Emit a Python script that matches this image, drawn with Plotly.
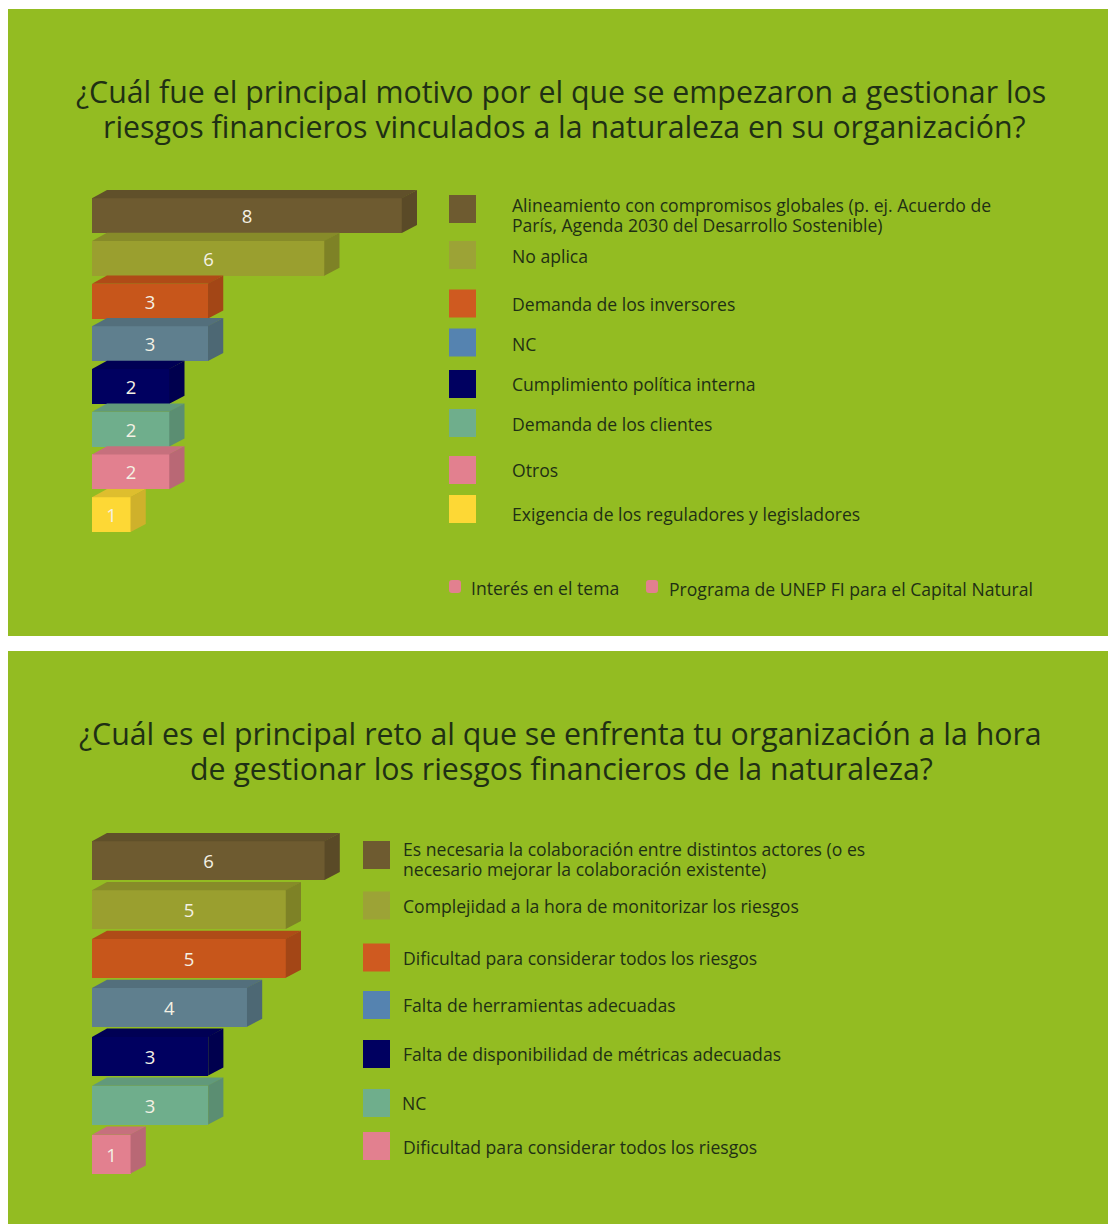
import plotly.graph_objects as go

W, H = 1108, 1224
BG = "#93bc22"
TXT = "#1f3014"
FONT = "Open Sans"

title_1 = ["¿Cuál fue el principal motivo por el que se empezaron a gestionar los",
           "riesgos financieros vinculados a la naturaleza en su organización?"]
title_2 = ["¿Cuál es el principal reto al que se enfrenta tu organización a la hora",
           "de gestionar los riesgos financieros de la naturaleza?"]

labels_1 = ["Alineamiento con compromisos globales (p. ej. Acuerdo de<br>París, Agenda 2030 del Desarrollo Sostenible)", "No aplica",
            "Demanda de los inversores", "NC", "Cumplimiento política interna", "Demanda de los clientes", "Otros",
            "Exigencia de los reguladores y legisladores"]
values_1 = [8, 6, 3, 3, 2, 2, 2, 1]
colors_1 = ["#6e5b30", "#9a9f2f", "#c7561b", "#5f7f8e", "#000060", "#6fae8c", "#e2808f", "#fdd835"]
swatches_1 = ["#6e5b30", "#9ca336", "#cf5a20", "#5583b0", "#000060", "#6fae8c", "#e2808f", "#fdd835"]

labels_2 = ["Es necesaria la colaboración entre distintos actores (o es<br>necesario mejorar la colaboración existente)",
            "Complejidad a la hora de monitorizar los riesgos", "Dificultad para considerar todos los riesgos",
            "Falta de herramientas adecuadas", "Falta de disponibilidad de métricas adecuadas", "NC",
            "Dificultad para considerar todos los riesgos"]
values_2 = [6, 5, 5, 4, 3, 3, 1]
colors_2 = ["#6e5b30", "#9a9f2f", "#c7561b", "#5f7f8e", "#000060", "#6fae8c", "#e2808f"]
swatches_2 = ["#6e5b30", "#9ca336", "#cf5a20", "#5583b0", "#000060", "#6fae8c", "#e2808f"]

extras_1 = ["Interés en el tema", "Programa de UNEP FI para el Capital Natural"]

# layout geometry (pixels from page top-left)
swatch_y_1 = [209, 255, 303.5, 342.5, 384, 423, 470, 509]
label_y_1 = [215, 256, 304, 344, 384, 424, 470, 514]
swatch_y_2 = [855, 905.5, 957.5, 1005, 1054, 1103, 1146]
label_y_2 = [859, 906, 958, 1005, 1054, 1103, 1147]


def shade(hex_color, f):
    r, g, b = (int(hex_color[i:i + 2], 16) for i in (1, 3, 5))
    return "#%02x%02x%02x" % (int(r * f), int(g * f), int(b * f))


fig = go.Figure()
shapes, annotations = [], []


def px(x):
    return x / W


def py(y):
    return 1 - y / H


def add_text(text, x, y, size, anchor="left"):
    annotations.append(dict(text=text, xref="paper", yref="paper", x=px(x), y=py(y), xanchor=anchor, yanchor="middle",
                            align=anchor, showarrow=False, font=dict(family=FONT, size=size, color=TXT)))


def panel(suffix, labels, values, colors, swatches, top, pitch, bar_px, unit, swatch_x, text_x, swatch_y, label_y, title, title_pos):
    n = len(values)
    x0_px, plot_w = 92, 440
    domain_top = top - (pitch - bar_px) / 2 - pitch / 2   # half a row of headroom for the top face
    domain_bottom = domain_top + (n + 0.5) * pitch
    xr, yr = "x" + suffix, "y" + suffix
    fig.update_layout(**{
        "xaxis" + suffix: dict(domain=[px(x0_px), px(x0_px + plot_w)], range=[0, plot_w / unit], visible=False, anchor=yr, fixedrange=True),
        "yaxis" + suffix: dict(domain=[py(domain_bottom), py(domain_top)], range=[n - 0.5, -1], visible=False, anchor=xr, fixedrange=True),
    })
    half = bar_px / pitch / 2
    dx, dy = 15 / unit, 8 / pitch
    seam_x, seam_y = 0.006, 0.006
    for i, v in enumerate(values):
        top_y, bot_y = i - half, i + half
        fig.add_trace(go.Scatter(x=[0, dx, v + dx, v], y=[top_y + seam_y, top_y - dy, top_y - dy, top_y + seam_y], fill="toself", mode="lines",
                                 line=dict(width=0), fillcolor=shade(colors[i], 0.88), xaxis=xr, yaxis=yr,
                                 showlegend=False, hoverinfo="skip"))
        fig.add_trace(go.Scatter(x=[v - seam_x, v + dx, v + dx, v - seam_x], y=[top_y, top_y - dy, bot_y - dy, bot_y], fill="toself", mode="lines",
                                 line=dict(width=0), fillcolor=shade(colors[i], 0.82), xaxis=xr, yaxis=yr,
                                 showlegend=False, hoverinfo="skip"))
    fig.add_trace(go.Bar(x=values, y=list(range(n)), orientation="h", width=bar_px / pitch, marker=dict(color=colors, line=dict(width=0)),
                         text=[str(v) for v in values], textposition="inside", insidetextanchor="middle",
                         textfont=dict(family=FONT, size=18.5, color="#f4f1e4"), constraintext="none",
                         xaxis=xr, yaxis=yr, showlegend=False, hovertext=labels, hoverinfo="text+x"))
    for lab, c, sy, ly in zip(labels, swatches, swatch_y, label_y):
        shapes.append(dict(type="rect", xref="paper", yref="paper", x0=px(swatch_x), x1=px(swatch_x + 27),
                           y0=py(sy - 14), y1=py(sy + 14), fillcolor=c, line=dict(width=0), layer="above"))
        lines = lab.split("<br>")
        if len(lines) == 1:
            add_text(lines[0], text_x, ly, 17.6)
        else:
            add_text(lines[0], text_x, ly - 10, 17.6)
            add_text(lines[1], text_x, ly + 10, 17.6)
    for line, (cx, cy) in zip(title, title_pos):
        add_text(line, cx, cy, 30.3, "center")


panel("", labels_1, values_1, colors_1, swatches_1, 198, 42.7, 35, 38.75, 449, 509.5, swatch_y_1, label_y_1, title_1, [(560.5, 92), (564, 127)])
panel("2", labels_2, values_2, colors_2, swatches_2, 841, 48.9, 39, 38.8, 363, 400.5, swatch_y_2, label_y_2, title_2, [(560, 733), (561, 768)])

for (xa, xb, ya, yb) in [(8, 1108, 9, 636), (8, 1108, 651, 1224)]:
    shapes.append(dict(type="rect", xref="paper", yref="paper", x0=px(xa), x1=px(xb), y0=py(yb), y1=py(ya),
                       fillcolor=BG, line=dict(width=0), layer="below"))

for t, sx, tx, ty in zip(extras_1, [449, 646], [468.5, 666.5], [588, 589]):
    shapes.append(dict(type="path", xref="paper", yref="paper", layer="above", fillcolor="#e2808f", line=dict(width=0),
                       path=(f"M {px(sx + 3)} {py(580)} L {px(sx + 9)} {py(580)} Q {px(sx + 12)} {py(580)} {px(sx + 12)} {py(583)} "
                             f"L {px(sx + 12)} {py(590)} Q {px(sx + 12)} {py(593)} {px(sx + 9)} {py(593)} "
                             f"L {px(sx + 3)} {py(593)} Q {px(sx)} {py(593)} {px(sx)} {py(590)} "
                             f"L {px(sx)} {py(583)} Q {px(sx)} {py(580)} {px(sx + 3)} {py(580)} Z")))
    add_text(t, tx, ty, 17.6)

fig.update_layout(width=W, height=H, margin=dict(l=0, r=0, t=0, b=0), paper_bgcolor="white", plot_bgcolor="rgba(0,0,0,0)",
                  shapes=shapes, annotations=annotations, showlegend=False, bargap=0)
fig.write_html("out.html", post_script="document.body.style.margin='0';", config={"displayModeBar": False})
